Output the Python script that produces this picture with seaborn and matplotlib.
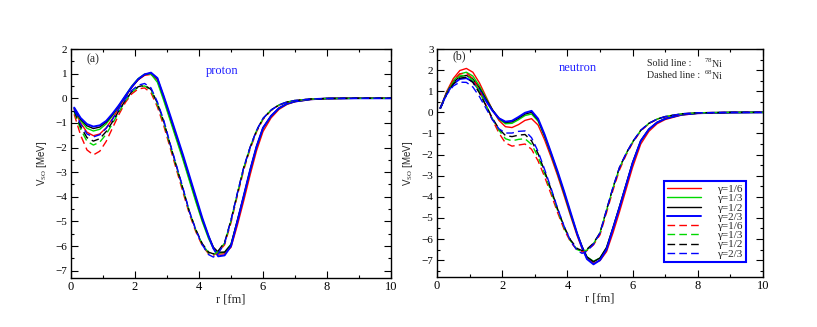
import matplotlib
matplotlib.use("Agg")
import matplotlib.pyplot as plt
from matplotlib.ticker import MultipleLocator
import seaborn as sns

# ---------------- data ----------------
R = [0.1, 0.3, 0.5, 0.7, 0.9, 1.1, 1.3, 1.5, 1.7, 1.9, 2.1, 2.3, 2.5, 2.7, 2.9,
     3.1, 3.3, 3.5, 3.7, 3.9, 4.1, 4.3, 4.45, 4.6, 4.8, 5.0, 5.2, 5.4, 5.6, 5.8,
     6.0, 6.25, 6.5, 6.75, 7.0, 7.5, 8.0, 9.0, 10.0]

gamma_labels = ["γ=1/6", "γ=1/3", "γ=1/2", "γ=2/3"]

# proton, 78Ni (solid)
p78_g16 = [-0.45, -1.0, -1.38, -1.52, -1.45, -1.2, -0.82, -0.38, 0.05, 0.45, 0.75, 0.93, 0.97, 0.75, 0.0,
           -0.82, -1.62, -2.42, -3.27, -4.12, -4.95, -5.65, -6.08, -6.33, -6.32, -6.05, -5.15, -4.15, -3.1, -2.12,
           -1.35, -0.8, -0.45, -0.25, -0.14, -0.05, -0.01, 0.0, 0.0]
p78_g13 = [-0.42, -0.9, -1.22, -1.33, -1.26, -1.04, -0.7, -0.3, 0.1, 0.5, 0.8, 0.98, 0.98, 0.65, -0.1,
           -0.9, -1.7, -2.5, -3.35, -4.2, -5.0, -5.7, -6.1, -6.3, -6.25, -5.92, -4.97, -3.97, -2.92, -1.97,
           -1.22, -0.73, -0.41, -0.23, -0.13, -0.04, -0.01, 0.0, 0.0]
p78_g12 = [-0.4, -0.85, -1.12, -1.23, -1.17, -0.97, -0.66, -0.3, 0.08, 0.45, 0.76, 0.96, 1.03, 0.8, 0.05,
           -0.75, -1.55, -2.35, -3.2, -4.05, -4.9, -5.6, -6.05, -6.25, -6.25, -5.95, -4.95, -3.95, -2.9, -1.95,
           -1.2, -0.72, -0.4, -0.22, -0.13, -0.04, -0.01, 0.0, 0.0]
p78_g23 = [-0.38, -0.8, -1.05, -1.15, -1.1, -0.92, -0.62, -0.28, 0.1, 0.47, 0.78, 0.97, 1.04, 0.82, 0.08,
           -0.7, -1.5, -2.3, -3.15, -4.0, -4.85, -5.6, -6.1, -6.42, -6.38, -6.0, -5.0, -3.95, -2.9, -1.95,
           -1.2, -0.72, -0.4, -0.22, -0.13, -0.04, -0.01, 0.0, 0.0]

# proton, 68Ni (dashed)
p68_g16 = [-0.65, -1.5, -2.1, -2.3, -2.15, -1.75, -1.2, -0.65, -0.17, 0.18, 0.38, 0.42, 0.22, -0.35, -1.12,
           -2.02, -2.92, -3.82, -4.7, -5.42, -5.98, -6.32, -6.38, -6.25, -5.95, -5.05, -3.95, -2.9, -2.05, -1.36,
           -0.86, -0.5, -0.28, -0.16, -0.09, -0.03, -0.01, 0.0, 0.0]
p68_g13 = [-0.55, -1.25, -1.75, -1.9, -1.78, -1.46, -1.02, -0.55, -0.1, 0.25, 0.45, 0.5, 0.32, -0.25, -1.0,
           -1.92, -2.82, -3.72, -4.62, -5.35, -5.92, -6.28, -6.35, -6.22, -5.88, -4.97, -3.87, -2.82, -1.99, -1.31,
           -0.83, -0.48, -0.27, -0.15, -0.09, -0.03, -0.01, 0.0, 0.0]
p68_g12 = [-0.5, -1.15, -1.6, -1.74, -1.64, -1.35, -0.95, -0.5, -0.08, 0.27, 0.47, 0.53, 0.36, -0.2, -0.95,
           -1.88, -2.78, -3.68, -4.6, -5.33, -5.9, -6.25, -6.32, -6.2, -5.85, -4.95, -3.85, -2.8, -1.98, -1.3,
           -0.82, -0.48, -0.27, -0.15, -0.09, -0.03, -0.01, 0.0, 0.0]
p68_g23 = [-0.45, -1.05, -1.45, -1.57, -1.48, -1.22, -0.85, -0.42, -0.02, 0.32, 0.53, 0.6, 0.42, -0.15, -0.9,
           -1.85, -2.75, -3.65, -4.6, -5.35, -5.95, -6.35, -6.45, -6.3, -5.9, -4.95, -3.85, -2.8, -1.98, -1.3,
           -0.82, -0.48, -0.27, -0.15, -0.09, -0.03, -0.01, 0.0, 0.0]

# neutron, 78Ni (solid)
n78_g16 = [0.2, 1.0, 1.6, 1.98, 2.08, 1.9, 1.4, 0.75, 0.12, -0.38, -0.68, -0.72, -0.58, -0.38, -0.3,
           -0.6, -1.3, -2.12, -3.0, -3.95, -4.92, -5.85, -6.45, -6.92, -7.15, -7.02, -6.6, -5.7, -4.7, -3.65,
           -2.6, -1.5, -0.9, -0.54, -0.34, -0.13, -0.05, -0.01, 0.0]
n78_g13 = [0.2, 0.95, 1.5, 1.82, 1.9, 1.72, 1.25, 0.68, 0.12, -0.32, -0.54, -0.52, -0.35, -0.15, -0.08,
           -0.42, -1.15, -2.0, -2.9, -3.85, -4.85, -5.78, -6.38, -6.85, -7.05, -6.9, -6.42, -5.48, -4.47, -3.43,
           -2.39, -1.36, -0.8, -0.48, -0.3, -0.11, -0.04, -0.01, 0.0]
n78_g12 = [0.2, 0.92, 1.42, 1.7, 1.75, 1.58, 1.15, 0.62, 0.12, -0.28, -0.48, -0.45, -0.28, -0.08, 0.0,
           -0.35, -1.1, -1.95, -2.85, -3.8, -4.8, -5.75, -6.35, -6.85, -7.08, -6.9, -6.4, -5.45, -4.45, -3.42,
           -2.38, -1.35, -0.8, -0.48, -0.3, -0.11, -0.04, -0.01, 0.0]
n78_g23 = [0.2, 0.9, 1.35, 1.58, 1.62, 1.45, 1.05, 0.55, 0.08, -0.28, -0.44, -0.4, -0.22, -0.02, 0.07,
           -0.3, -1.05, -1.92, -2.8, -3.75, -4.75, -5.75, -6.4, -6.95, -7.2, -7.0, -6.5, -5.5, -4.5, -3.45,
           -2.4, -1.35, -0.8, -0.48, -0.3, -0.11, -0.04, -0.01, 0.0]

# neutron, 68Ni (dashed)
n68_g16 = [0.18, 0.92, 1.5, 1.82, 1.86, 1.6, 1.05, 0.35, -0.35, -0.98, -1.45, -1.6, -1.55, -1.5, -1.75,
           -2.3, -3.05, -3.88, -4.75, -5.55, -6.15, -6.52, -6.62, -6.55, -6.28, -5.8, -4.75, -3.68, -2.72, -2.02,
           -1.45, -0.88, -0.54, -0.33, -0.21, -0.08, -0.02, 0.0, 0.0]
n68_g13 = [0.18, 0.9, 1.42, 1.72, 1.76, 1.52, 1.0, 0.35, -0.3, -0.85, -1.25, -1.35, -1.28, -1.25, -1.52,
           -2.1, -2.9, -3.75, -4.65, -5.48, -6.1, -6.5, -6.6, -6.52, -6.22, -5.7, -4.64, -3.57, -2.62, -1.96,
           -1.41, -0.86, -0.52, -0.32, -0.2, -0.07, -0.02, 0.0, 0.0]
n68_g12 = [0.18, 0.88, 1.35, 1.62, 1.66, 1.42, 0.92, 0.32, -0.28, -0.78, -1.1, -1.15, -1.08, -1.05, -1.35,
           -1.95, -2.78, -3.65, -4.58, -5.42, -6.05, -6.45, -6.55, -6.48, -6.2, -5.7, -4.62, -3.55, -2.6, -1.95,
           -1.4, -0.85, -0.52, -0.32, -0.2, -0.07, -0.02, 0.0, 0.0]
n68_g23 = [0.18, 0.85, 1.25, 1.43, 1.42, 1.2, 0.75, 0.2, -0.35, -0.78, -0.98, -0.98, -0.9, -0.88, -1.2,
           -1.85, -2.7, -3.6, -4.55, -5.4, -6.1, -6.55, -6.68, -6.58, -6.25, -5.72, -4.62, -3.55, -2.6, -1.95,
           -1.4, -0.85, -0.52, -0.32, -0.2, -0.07, -0.02, 0.0, 0.0]

proton_solid = [p78_g16, p78_g13, p78_g12, p78_g23]
proton_dashed = [p68_g16, p68_g13, p68_g12, p68_g23]
neutron_solid = [n78_g16, n78_g13, n78_g12, n78_g23]
neutron_dashed = [n68_g16, n68_g13, n68_g12, n68_g23]

colors = ["#ff0000", "#00d800", "#000000", "#0000ff"]

# ---------------- style ----------------
sns.set_style("ticks")
plt.rcParams["font.family"] = ["Liberation Serif", "DejaVu Serif"]
plt.rcParams["mathtext.fontset"] = "custom"
plt.rcParams["mathtext.rm"] = "Liberation Serif"

fig = plt.figure(figsize=(8.17, 3.27), dpi=100)
axL = fig.add_axes([0.0869, 0.1498, 0.3917, 0.7003])
axR = fig.add_axes([0.5349, 0.1529, 0.3990, 0.6972])

dash = (0, (5.5, 3))


def draw(ax, solid, dashed):
    for vals, c, lab in zip(solid, colors, gamma_labels):
        sns.lineplot(x=R, y=vals, ax=ax, color=c, linewidth=1.0 if c != "#0000ff" else 1.4,
                     label=lab, legend=False)
    for vals, c, lab in zip(dashed, colors, gamma_labels):
        sns.lineplot(x=R, y=vals, ax=ax, color=c, linewidth=1.0, linestyle=dash,
                     label=lab, legend=False)


draw(axL, proton_solid, proton_dashed)
draw(axR, neutron_solid, neutron_dashed)

for ax, ylim in ((axL, (-7.3, 2)), (axR, (-7.8, 3))):
    ax.set_xlim(0, 10)
    ax.set_ylim(*ylim)
    ax.xaxis.set_major_locator(MultipleLocator(2))
    ax.xaxis.set_minor_locator(MultipleLocator(1))
    ax.yaxis.set_major_locator(MultipleLocator(1))
    ax.yaxis.set_minor_locator(MultipleLocator(0.5))
    ax.tick_params(which="both", direction="in", top=True, right=True, width=0.8,
                   pad=2.5, colors="black")
    ax.tick_params(axis="x", labelsize=9)
    ax.tick_params(axis="y", labelsize=8)
    ax.tick_params(which="major", length=5)
    ax.tick_params(which="minor", length=2.5)
    for s in ax.spines.values():
        s.set_linewidth(1.0)
        s.set_color("black")
    ax.set_xlabel("r [fm]", fontsize=9, labelpad=0)
    ax.set_ylabel("V$_{\\mathrm{SO}}$ [MeV]", fontsize=7,
                  fontfamily=["Liberation Sans", "DejaVu Sans"], labelpad=5)

axL.text(0.05, 0.954, "(a)", transform=axL.transAxes, fontsize=8.5, va="center", ha="left")
axR.text(0.049, 0.966, "(b)", transform=axR.transAxes, fontsize=8.5, va="center", ha="left")
axL.text(0.472, 0.902, "proton", transform=axL.transAxes, fontsize=9, color="#2020ff",
         va="center", ha="center")
axR.text(0.433, 0.915, "neutron", transform=axR.transAxes, fontsize=9, color="#2020ff",
         va="center", ha="center")
axR.text(0.644, 0.936, "Solid line :", transform=axR.transAxes, fontsize=7.2, va="center", ha="left")
axR.text(0.644, 0.884, "Dashed line :", transform=axR.transAxes, fontsize=7.2, va="center", ha="left")
axR.text(0.878, 0.936, "$^{78}$Ni", transform=axR.transAxes, fontsize=7.2, va="center", ha="right")
axR.text(0.878, 0.884, "$^{68}$Ni", transform=axR.transAxes, fontsize=7.2, va="center", ha="right")

handles, labels = axR.get_legend_handles_labels()
leg = axR.legend(handles, labels, loc="lower right", bbox_to_anchor=(0.948, 0.066),
                 borderaxespad=0, fontsize=8, frameon=True, fancybox=False,
                 handlelength=3.0, handletextpad=1.5, labelspacing=-0.05,
                 borderpad=0.3, framealpha=1)
leg.get_frame().set_edgecolor("#0000ff")
leg.get_frame().set_linewidth(1.5)

fig.savefig("out.png", dpi=100)
